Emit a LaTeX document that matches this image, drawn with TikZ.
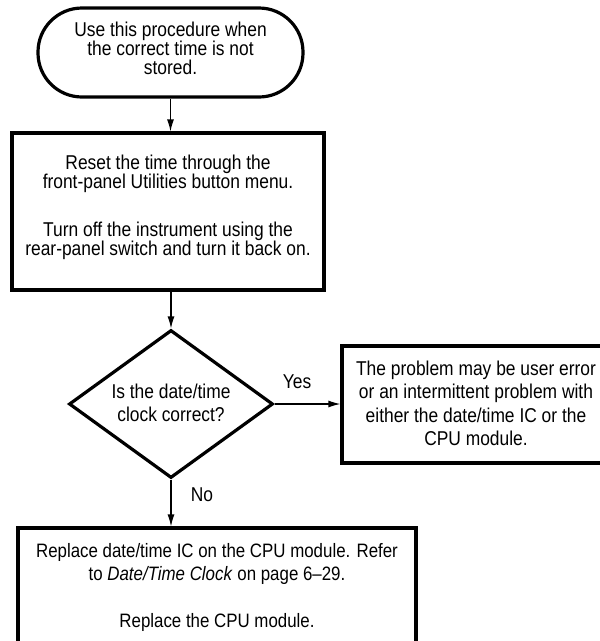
\documentclass[tikz,border=0pt]{standalone}
\usepackage{fontspec}
\setmainfont{Liberation Sans}[FakeStretch=0.87]
\usetikzlibrary{shapes.geometric,arrows.meta}
\begin{document}
\begin{tikzpicture}[x=1pt,y=-1pt,
  box/.style={draw,line width=3.2pt,rectangle,inner sep=0pt,align=center},
  conn/.style={line width=1.2pt,-{Latex[length=12pt,width=7pt]}},
  lbl/.style={font=\fontsize{20}{24}\selectfont,inner sep=0pt},
  sm/.style={font=\fontsize{20}{19}\selectfont},
  lg/.style={font=\fontsize{20}{23.5}\selectfont},
  lgb/.style={font=\fontsize{19.4}{23.5}\selectfont}]
\useasboundingbox (0,0) rectangle (600,641);
\clip (0,0) rectangle (600,641);
\node[box,sm,rounded corners=44pt,minimum width=265pt,minimum height=89pt,text depth=8pt] (start) at (170.5,52.5)
  {Use this procedure when\\the correct time is not\\stored.};
\node[box,sm,minimum width=312pt,minimum height=157pt,text depth=11.6pt] (b1) at (168,211.5)
  {Reset the time through the\\front-panel Utilities button menu.\\[29pt]Turn off the instrument using the\\rear-panel switch and turn it back on.};
\node[diamond,draw,line width=3.2pt,inner sep=0pt,aspect=1.378,minimum width=204pt,minimum height=148pt,align=center,lg,text depth=3pt] (q) at (171,404)
  {Is the date/time\\clock correct?};
\node[box,lg,minimum width=268pt,minimum height=117pt,text depth=3pt] (r) at (476,404.5)
  {The problem may be user error\\or an intermittent problem with\\either the date/time IC or the\\CPU module.};
\node[box,lgb,minimum width=398pt,minimum height=118pt] (b2) at (217,587)
  {Replace date/time IC on the CPU module. Refer\\to \textit{Date/Time Clock} on page 6--29.\\[23pt]Replace the CPU module.};
\node[lbl] (yes) at (297,382) {Yes};
\node[lbl] (no) at (202,495) {No};
\draw[conn] (start.south) -- (start.south |- b1.north);
\draw[conn] (b1.south -| q.north) -- (q.north);
\draw[conn] (q.east) -- (q.east -| r.west);
\draw[conn] (q.south) -- (q.south |- b2.north);
\end{tikzpicture}
\end{document}
